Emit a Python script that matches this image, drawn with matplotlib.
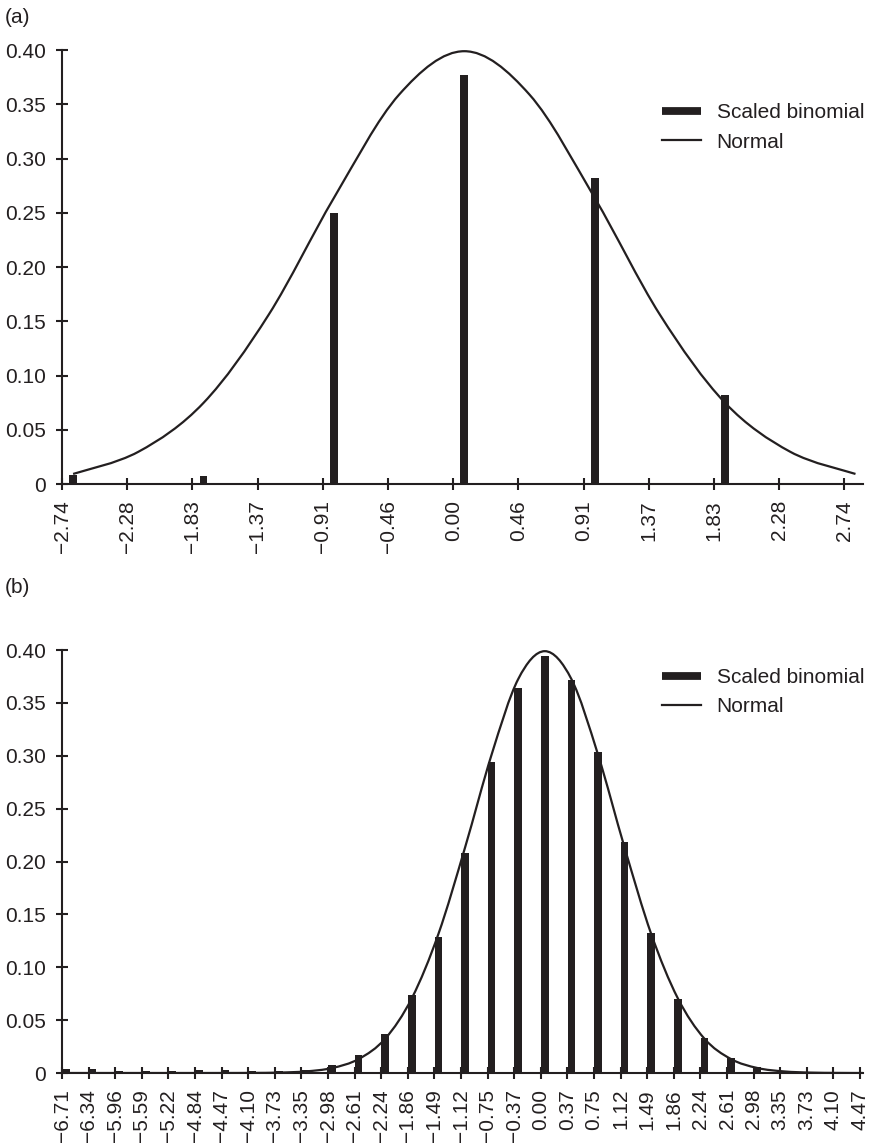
import numpy as np
import matplotlib
matplotlib.use("Agg")
import matplotlib.pyplot as plt
from matplotlib.path import Path
from matplotlib.patches import PathPatch
from matplotlib.lines import Line2D

plt.rcParams['font.family'] = ['Liberation Sans', 'DejaVu Sans']

ink = '#231f20'
M = '\u2212'

# ---- panel (a) data ----
labels_a = [M + '2.74', M + '2.28', M + '1.83', M + '1.37', M + '0.91', M + '0.46', '0.00',
            '0.46', '0.91', '1.37', '1.83', '2.28', '2.74']
binom_a = [0.008, 0.0, 0.007, 0.0, 0.250, 0.0, 0.377, 0.0, 0.282, 0.0, 0.082, 0.0, 0.0]
normal_a = [0.0093, 0.0297, 0.0748, 0.1561, 0.2637, 0.3589, 0.3989,
            0.3589, 0.2637, 0.1561, 0.0748, 0.0297, 0.0093]

# ---- panel (b) data ----
labels_b = [M + '6.71', M + '6.34', M + '5.96', M + '5.59', M + '5.22', M + '4.84', M + '4.47',
            M + '4.10', M + '3.73', M + '3.35', M + '2.98', M + '2.61', M + '2.24', M + '1.86',
            M + '1.49', M + '1.12', M + '0.75', M + '0.37', '0.00', '0.37', '0.75', '1.12',
            '1.49', '1.86', '2.24', '2.61', '2.98', '3.35', '3.73', '4.10', '4.47']
binom_b = [0.004, 0.004, 0.002, 0.002, 0.002, 0.003, 0.003, 0.002, 0.002, 0.003,
           0.008, 0.017, 0.037, 0.074, 0.129, 0.208, 0.294, 0.364, 0.394, 0.372,
           0.304, 0.218, 0.132, 0.070, 0.033, 0.014, 0.006, 0.002, 0.001, 0.001, 0.001]
normal_b = [0.0, 0.0, 0.0, 0.0, 0.0, 0.0, 0.00002, 0.0001, 0.0004, 0.0015,
            0.0047, 0.0132, 0.0325, 0.0707, 0.1315, 0.2131, 0.3011, 0.3725, 0.3989, 0.3725,
            0.3011, 0.2131, 0.1315, 0.0707, 0.0325, 0.0132, 0.0047, 0.0015, 0.0004, 0.0001, 0.0]

ylabels = ['0', '0.05', '0.10', '0.15', '0.20', '0.25', '0.30', '0.35', '0.40']


def smooth_path(x, y):
    # smoothed line through the points (bezier, like a spreadsheet "smoothed line")
    n = len(x)
    verts = [(x[0], y[0])]
    codes = [Path.MOVETO]
    for i in range(n - 1):
        i0 = max(i - 1, 0)
        i3 = min(i + 2, n - 1)
        c1 = (x[i] + (x[i + 1] - x[i0]) / 6, y[i] + (y[i + 1] - y[i0]) / 6)
        c2 = (x[i + 1] - (x[i3] - x[i]) / 6, y[i + 1] - (y[i3] - y[i]) / 6)
        verts += [c1, c2, (x[i + 1], y[i + 1])]
        codes += [Path.CURVE4] * 3
    return Path(verts, codes)


def panel(ax, labels, binom, normal, offset, width, xmax):
    idx = np.arange(len(labels))
    xs = idx + offset
    ax.bar(xs, binom, width=width, color=ink, zorder=2)
    ax.add_patch(PathPatch(smooth_path(xs, normal), fill=False, ec=ink, lw=1.6, zorder=3))
    ax.set_xticks(idx)
    ax.set_xticklabels(labels, rotation=90)
    ax.set_xlim(0, xmax)
    ax.set_ylim(0, 0.40)
    ax.set_yticks(np.arange(9) * 0.05)
    ax.set_yticklabels(ylabels)
    for s in ['top', 'right']:
        ax.spines[s].set_visible(False)
    for s in ['left', 'bottom']:
        ax.spines[s].set_linewidth(1.5)
        ax.spines[s].set_color(ink)
    ax.tick_params(direction='inout', length=9, width=1.5, color=ink,
                   labelsize=15, labelcolor=ink, pad=7)


fig = plt.figure(figsize=(8.75, 11.47), dpi=100)
ax1 = fig.add_axes([0.0709, 0.578, 0.915, 0.3784])
ax2 = fig.add_axes([0.0709, 0.0645, 0.915, 0.3688])

panel(ax1, labels_a, binom_a, normal_a, 0.17, 0.12, 12.28)
panel(ax2, labels_b, binom_b, normal_b, 0.15, 0.28, 30.1)

handles = [Line2D([], [], color=ink, lw=5.6, solid_capstyle='butt'),
           Line2D([], [], color=ink, lw=1.6)]
names = ['Scaled binomial', 'Normal']
for y in [0.889, 0.3965]:
    fig.legend(handles, names, loc='center left', bbox_to_anchor=(0.757, y),
               frameon=False, fontsize=15, handlelength=1.85, handletextpad=0.75,
               labelspacing=0.5, borderpad=0, borderaxespad=0, labelcolor=ink)

fig.text(0.006, 0.985, '(a)', fontsize=15, color=ink, va='center')
fig.text(0.006, 0.488, '(b)', fontsize=15, color=ink, va='center')

fig.savefig('out.png', dpi=100)
